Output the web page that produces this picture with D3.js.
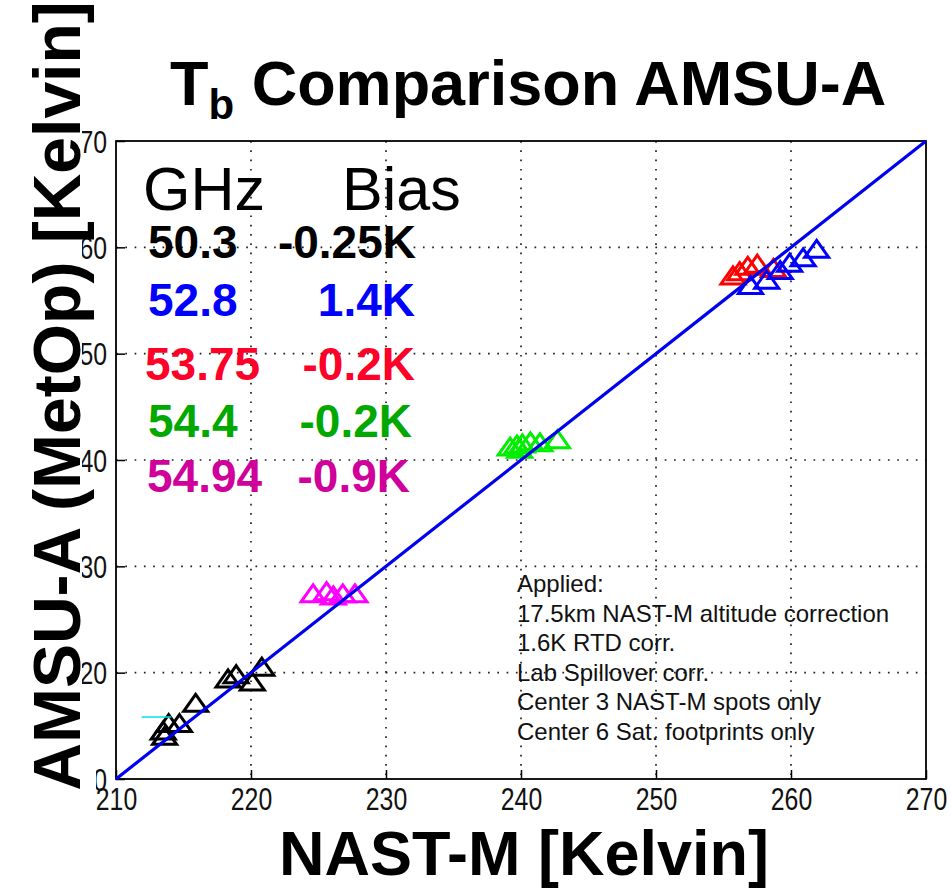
<!DOCTYPE html>
<html><head><meta charset="utf-8">
<script src="https://cdn.jsdelivr.net/npm/d3@7"></script>
<style>html,body{margin:0;padding:0;background:#fff;} svg{display:block;}</style>
</head><body>
<svg id="chart" width="951" height="893"></svg>
<script>
// ---------- data ----------
const xTicks = [210, 220, 230, 240, 250, 260, 270];
const yTicks = [210, 220, 230, 240, 250, 260, 270];

// 50.3 GHz (black)
const nast503 = [213.5, 213.6, 213.9, 214.7, 215.9, 218.3, 218.9, 220.1, 220.8];
const amsu503 = [214.4, 213.9, 215.1, 215.1, 217.0, 219.3, 219.7, 219.0, 220.4];
// 52.8 GHz (blue)
const nast528 = [257.0, 258.2, 259.2, 259.9, 260.9, 261.9];
const amsu528 = [256.3, 256.8, 257.7, 258.4, 258.9, 259.7];
// 53.75 GHz (red)
const nast5375 = [255.7, 256.2, 256.8, 257.5, 258.7];
const amsu5375 = [257.2, 257.6, 258.1, 258.3, 257.9];
// 54.4 GHz (green)
const nast544 = [239.2, 239.7, 240.1, 240.7, 239.9, 241.4, 242.7];
const amsu544 = [241.1, 241.3, 241.4, 241.6, 240.9, 241.5, 241.8];
// 54.94 GHz (magenta)
const nast5494 = [224.6, 225.6, 226.1, 226.8, 227.7];
const amsu5494 = [227.3, 227.5, 227.1, 227.3, 227.3];

// stray cyan segment
const cyanX = [211.9, 214.1];
const cyanY = [215.83, 215.83];

// 1:1 line
const diagX = [210, 270];
const diagY = [210, 270];

const channels = ["50.3", "52.8", "53.75", "54.4", "54.94"];
const biases = ["-0.25K", "1.4K", "-0.2K", "-0.2K", "-0.9K"];
const textColors = ["#000000", "#0000ff", "#ff0028", "#00a800", "#d0009a"];
const markerColors = ["#000000", "#0000ff", "#ff0000", "#00ee00", "#ff00ff"];
const notes = ["Applied:", "17.5km NAST-M altitude correction", "1.6K RTD corr.",
  "Lab Spillover corr.", "Center 3 NAST-M spots only", "Center 6 Sat. footprints only"];

// ---------- layout ----------
const svg = d3.select("#chart");
const L = 116, R = 926, T = 141, B = 779;
const x = d3.scaleLinear().domain([210, 270]).range([L, R]);
const y = d3.scaleLinear().domain([210, 270]).range([B, T]);
const tickFont = "'Liberation Sans',Arial,sans-serif";
const boldFont = "'Liberation Sans',Arial,sans-serif";
const sx = 0.8;

// grid
const grid = svg.append("g").attr("stroke", "#222").attr("stroke-width", 1.7)
  .attr("stroke-dasharray", "1.7,7.6");
grid.selectAll(".gx").data(xTicks.slice(1, -1)).join("line")
  .attr("x1", d => x(d)).attr("x2", d => x(d)).attr("y1", T).attr("y2", B);
grid.selectAll(".gy").data(yTicks.slice(1, -1)).join("line")
  .attr("y1", d => y(d)).attr("y2", d => y(d)).attr("x1", L).attr("x2", R);

// axes (inward ticks)
const xAxis = svg.append("g").attr("transform", `translate(0,${B})`)
  .call(d3.axisBottom(x).tickValues(xTicks).tickSize(-9).tickFormat(d => d));
const yAxis = svg.append("g").attr("transform", `translate(${L},0)`)
  .call(d3.axisLeft(y).tickValues(yTicks).tickSize(-9).tickFormat(d => d));
[xAxis, yAxis].forEach(a => {
  a.select(".domain").remove();
  a.selectAll(".tick line").attr("stroke", "#000").attr("stroke-width", 1.5);
  a.selectAll(".tick text").attr("fill", "#111").style("font-family", tickFont)
    .style("font-size", "31px");
});
xAxis.selectAll(".tick text").attr("x", 0).attr("y", 9).attr("dy", "0.71em")
  .attr("transform", `scale(${sx},1)`);
yAxis.selectAll(".tick text").attr("x", -9 / sx).attr("dy", "0.36em")
  .attr("transform", `scale(${sx},1)`);

// frame
svg.append("rect").attr("x", L).attr("y", T).attr("width", R - L).attr("height", B - T)
  .attr("fill", "none").attr("stroke", "#000").attr("stroke-width", 1.8);

// markers
function triPath(cx, cy) {
  const w = 24, h = 17;
  const p = d3.path();
  p.moveTo(cx, cy - h * 0.6);
  p.lineTo(cx + w / 2, cy + h * 0.4);
  p.lineTo(cx - w / 2, cy + h * 0.4);
  p.closePath();
  return p.toString();
}
const seriesX = [nast503, nast528, nast5375, nast544, nast5494];
const seriesY = [amsu503, amsu528, amsu5375, amsu544, amsu5494];
const drawOrder = [0, 4, 3, 2, 1];
drawOrder.forEach(i => {
  const pts = seriesX[i].map((v, k) => [v, seriesY[i][k]]);
  svg.append("g").selectAll("path").data(pts).join("path")
    .attr("d", d => triPath(x(d[0]), y(d[1])))
    .attr("fill", "none").attr("stroke", markerColors[i]).attr("stroke-width", 3)
    .attr("stroke-linejoin", "miter");
});

// cyan segment
svg.append("path").datum(cyanX.map((v, k) => [v, cyanY[k]]))
  .attr("d", d3.line().x(d => x(d[0])).y(d => y(d[1])))
  .attr("stroke", "#00e5e5").attr("stroke-width", 1.5).attr("fill", "none");

// 1:1 line
svg.append("path").datum(diagX.map((v, k) => [v, diagY[k]]))
  .attr("d", d3.line().x(d => x(d[0])).y(d => y(d[1])))
  .attr("stroke", "#0000f0").attr("stroke-width", 3.2).attr("fill", "none");

// legend block
svg.append("text").attr("x", 143).attr("y", 210).text("GHz")
  .style("font-family", boldFont).style("font-size", "61px").attr("fill", "#000");
svg.append("text").attr("x", 342).attr("y", 210).text("Bias")
  .style("font-family", boldFont).style("font-size", "61px").attr("fill", "#000");
const rowY = [258, 316, 380, 437, 492];
const rowX = [148, 148, 145, 148, 147];
const biasRight = [416, 415, 415, 412, 410];
channels.forEach((c, i) => {
  svg.append("text").attr("x", rowX[i]).attr("y", rowY[i]).text(c)
    .style("font-family", boldFont).style("font-weight", "bold").style("font-size", "46px")
    .attr("fill", textColors[i]);
  svg.append("text").attr("x", biasRight[i]).attr("y", rowY[i]).text(biases[i])
    .attr("text-anchor", "end")
    .style("font-family", boldFont).style("font-weight", "bold").style("font-size", "46px")
    .attr("fill", textColors[i]);
});

// notes
svg.append("g").selectAll("text").data(notes).join("text")
  .attr("x", 517).attr("y", (d, i) => 592 + i * 29.5).text(d => d)
  .style("font-family", "'Liberation Sans',Arial,sans-serif").style("font-size", "24px")
  .attr("fill", "#111");

// white area under y-title (hides part of tick labels as in the original)
svg.append("polygon").attr("points", "0,0 82,0 82,740 96,740 96,893 0,893").attr("fill", "#fff");

// y title
svg.append("text").attr("transform", "translate(80,396) rotate(-90)")
  .attr("text-anchor", "middle").text("AMSU-A (MetOp) [Kelvin]")
  .style("font-family", boldFont).style("font-weight", "bold").style("font-size", "66px")
  .attr("fill", "#000");

// x title
svg.append("text").attr("x", 524).attr("y", 875).attr("text-anchor", "middle")
  .text("NAST-M [Kelvin]")
  .style("font-family", boldFont).style("font-weight", "bold").style("font-size", "63px")
  .attr("fill", "#000");

// main title with subscript
const title = svg.append("text").attr("x", 170).attr("y", 105)
  .style("font-family", boldFont).style("font-weight", "bold").style("font-size", "63px")
  .attr("fill", "#000");
title.append("tspan").text("T");
title.append("tspan").attr("dy", 14).style("font-size", "42px").text("b");
title.append("tspan").attr("dy", -14).text(" Comparison AMSU-A");
</script>
</body></html>
